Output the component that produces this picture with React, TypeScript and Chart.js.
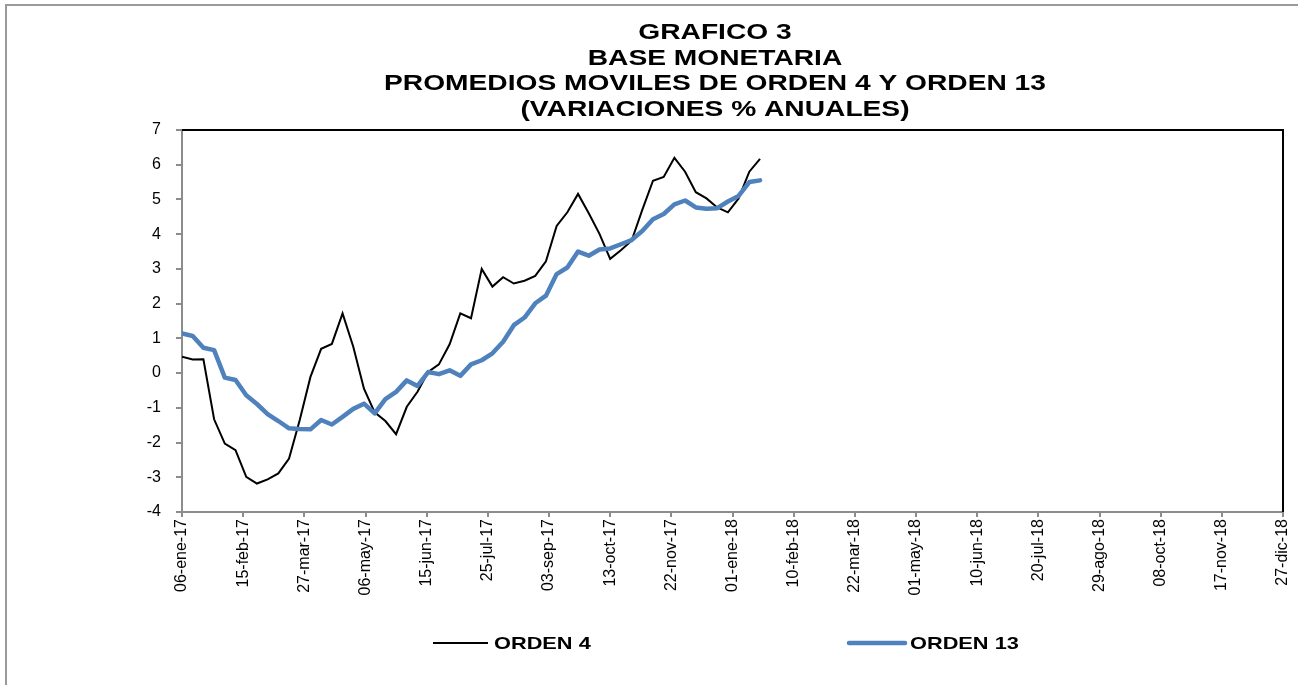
import React, { useEffect, useRef } from "react";
import { Chart, registerables } from "chart.js";

Chart.register(...registerables);

const TITLE_LINES = [
  "GRAFICO 3",
  "BASE MONETARIA",
  "PROMEDIOS MOVILES DE ORDEN 4 Y ORDEN 13",
  "(VARIACIONES % ANUALES)",
];

const START_DATE = "2017-01-06";
const END_DATE = "2018-12-27";
const TICK_STEP_DAYS = 40;
const Y_MIN = -4;
const Y_MAX = 7;

const MONTHS_ES = ["ene", "feb", "mar", "abr", "may", "jun", "jul", "ago", "sep", "oct", "nov", "dic"];

const WEEKS = [
  "2017-01-06", "2017-01-13", "2017-01-20", "2017-01-27",
  "2017-02-03", "2017-02-10", "2017-02-17", "2017-02-24",
  "2017-03-03", "2017-03-10", "2017-03-17", "2017-03-24", "2017-03-31",
  "2017-04-07", "2017-04-14", "2017-04-21", "2017-04-28",
  "2017-05-05", "2017-05-12", "2017-05-19", "2017-05-26",
  "2017-06-02", "2017-06-09", "2017-06-16", "2017-06-23", "2017-06-30",
  "2017-07-07", "2017-07-14", "2017-07-21", "2017-07-28",
  "2017-08-04", "2017-08-11", "2017-08-18", "2017-08-25",
  "2017-09-01", "2017-09-08", "2017-09-15", "2017-09-22", "2017-09-29",
  "2017-10-06", "2017-10-13", "2017-10-20", "2017-10-27",
  "2017-11-03", "2017-11-10", "2017-11-17", "2017-11-24",
  "2017-12-01", "2017-12-08", "2017-12-15", "2017-12-22", "2017-12-29",
  "2018-01-05", "2018-01-12", "2018-01-19",
];

const ORDEN_4 = [
  0.47, 0.39, 0.40, -1.33, -2.03, -2.22, -2.99, -3.18, -3.06, -2.89,
  -2.46, -1.35, -0.11, 0.70, 0.84, 1.72, 0.76, -0.45, -1.13, -1.38,
  -1.76, -0.97, -0.54, 0.03, 0.25, 0.83, 1.72, 1.58, 3.00, 2.49,
  2.76, 2.58, 2.66, 2.80, 3.22, 4.24, 4.63, 5.16, 4.60, 4.01,
  3.29, 3.54, 3.81, 4.70, 5.54, 5.65, 6.20, 5.80, 5.21, 5.03,
  4.77, 4.63, 5.03, 5.80, 6.17,
];

const ORDEN_13 = [
  1.14, 1.07, 0.73, 0.66, -0.13, -0.20, -0.64, -0.89, -1.18, -1.38,
  -1.59, -1.61, -1.62, -1.35, -1.48, -1.26, -1.03, -0.88, -1.16, -0.75,
  -0.54, -0.21, -0.37, 0.03, -0.03, 0.08, -0.08, 0.25, 0.37, 0.57,
  0.90, 1.38, 1.60, 2.01, 2.23, 2.85, 3.04, 3.50, 3.38, 3.56,
  3.59, 3.71, 3.83, 4.09, 4.43, 4.58, 4.86, 4.97, 4.77, 4.73,
  4.75, 4.94, 5.10, 5.50, 5.55,
];

const SERIES_NAMES = ["ORDEN 4", "ORDEN 13"];
const SERIES_COLORS = ["#000000", "#4f81bd"];
const SERIES_WIDTHS = [2, 4.5];

const FONT = "'Liberation Sans', Arial, sans-serif";
const DAY_MS = 86400000;

function toDays(iso: string): number {
  const [y, m, d] = iso.split("-").map(Number);
  const [y0, m0, d0] = START_DATE.split("-").map(Number);
  return Math.round((Date.UTC(y, m - 1, d) - Date.UTC(y0, m0 - 1, d0)) / DAY_MS);
}

function fmtDay(v: number): string {
  const [y0, m0, d0] = START_DATE.split("-").map(Number);
  const dt = new Date(Date.UTC(y0, m0 - 1, d0) + v * DAY_MS);
  const dd = String(dt.getUTCDate()).padStart(2, "0");
  const yy = String(dt.getUTCFullYear() % 100).padStart(2, "0");
  return `${dd}-${MONTHS_ES[dt.getUTCMonth()]}-${yy}`;
}

function stretchText(ctx: CanvasRenderingContext2D, text: string, x: number, y: number, sx: number, align: "left" | "center") {
  ctx.save();
  ctx.translate(x, y);
  ctx.scale(sx, 1);
  ctx.textAlign = align;
  ctx.textBaseline = "middle";
  ctx.fillText(text, 0, 0);
  ctx.restore();
}

const decorPlugin = {
  id: "decor",
  beforeDatasetsDraw(chart: any) {
    const { ctx, chartArea } = chart;
    ctx.save();
    ctx.strokeStyle = "#000000";
    ctx.lineWidth = 2;
    ctx.beginPath();
    ctx.moveTo(chartArea.left, chartArea.top);
    ctx.lineTo(chartArea.right, chartArea.top);
    ctx.lineTo(chartArea.right, chartArea.bottom);
    ctx.stroke();
    ctx.restore();
  },
  afterDraw(chart: any) {
    const { ctx } = chart;
    ctx.save();
    ctx.fillStyle = "#000000";
    ctx.font = `bold 22px ${FONT}`;
    const tx = 715;
    TITLE_LINES.forEach((line, i) => {
      stretchText(ctx, line, tx, 33 + i * 25.7, 1.28, "center");
    });
    // legend
    const ly = 643;
    const items = [
      { x0: 433, x1: 488, tx: 494 },
      { x0: 849, x1: 905, tx: 910 },
    ];
    items.forEach((it, i) => {
      ctx.strokeStyle = SERIES_COLORS[i];
      ctx.lineWidth = SERIES_WIDTHS[i];
      ctx.lineCap = i === 1 ? "round" : "butt";
      ctx.beginPath();
      ctx.moveTo(it.x0, ly);
      ctx.lineTo(it.x1, ly);
      ctx.stroke();
      ctx.fillStyle = "#000000";
      ctx.font = `bold 17px ${FONT}`;
      stretchText(ctx, SERIES_NAMES[i], it.tx, ly + 1, 1.28, "left");
    });
    ctx.restore();
  },
};

export default function App() {
  const canvasRef = useRef<HTMLCanvasElement | null>(null);

  useEffect(() => {
    const canvas = canvasRef.current;
    if (!canvas) return;
    const xs = WEEKS.map(toDays);
    const chart = new Chart(canvas, {
      type: "line",
      data: {
        datasets: [
          {
            label: SERIES_NAMES[0],
            data: xs.map((x, i) => ({ x, y: ORDEN_4[i] })),
            borderColor: SERIES_COLORS[0],
            borderWidth: SERIES_WIDTHS[0],
            pointRadius: 0,
            tension: 0,
            order: 1,
          },
          {
            label: SERIES_NAMES[1],
            data: xs.map((x, i) => ({ x, y: ORDEN_13[i] })),
            borderColor: SERIES_COLORS[1],
            borderWidth: SERIES_WIDTHS[1],
            pointRadius: 0,
            tension: 0,
            borderJoinStyle: "round",
            borderCapStyle: "round",
            order: 0,
          },
        ],
      },
      options: {
        animation: false,
        responsive: false,
        maintainAspectRatio: false,
        layout: { padding: { top: 130, right: 15, left: 0, bottom: 0 } },
        plugins: {
          legend: { display: false },
          title: { display: false },
          tooltip: { enabled: false },
        },
        scales: {
          x: {
            type: "linear",
            min: 0,
            max: toDays(END_DATE),
            afterFit: (s: any) => {
              s.height = 173;
              s.paddingLeft = 0;
              s.paddingRight = 0;
            },
            afterBuildTicks: (s: any) => {
              const t = [];
              for (let v = 0; v <= toDays(END_DATE); v += TICK_STEP_DAYS) t.push({ value: v });
              s.ticks = t;
            },
            ticks: {
              autoSkip: false,
              minRotation: 90,
              maxRotation: 90,
              padding: 2,
              color: "#000000",
              font: { family: FONT, size: 16 },
              callback: (v: any) => fmtDay(Number(v)),
            },
            grid: {
              display: true,
              drawOnChartArea: false,
              drawTicks: true,
              tickLength: 5,
              color: "#8c8c8c",
              lineWidth: 2,
            },
            border: { display: true, color: "#8c8c8c", width: 2 },
          },
          y: {
            min: Y_MIN,
            max: Y_MAX,
            afterFit: (s: any) => {
              s.width = 182;
              s.paddingTop = 0;
              s.paddingBottom = 0;
            },
            ticks: {
              stepSize: 1,
              padding: 15,
              color: "#000000",
              font: { family: FONT, size: 16 },
            },
            grid: {
              display: true,
              drawOnChartArea: false,
              drawTicks: true,
              tickLength: 6,
              color: "#8c8c8c",
              lineWidth: 2,
            },
            border: { display: true, color: "#8c8c8c", width: 2 },
          },
        },
      },
      plugins: [decorPlugin],
    });
    return () => chart.destroy();
  }, []);

  return (
    <div style={{ position: "absolute", left: 0, top: 0, width: 1298, height: 685, background: "#ffffff", overflow: "hidden" }}>
      <div
        style={{
          position: "absolute",
          left: 5,
          top: 4,
          width: 1400,
          height: 800,
          borderLeft: "2px solid #9a9a9a",
          borderTop: "2px solid #9a9a9a",
        }}
      />
      <canvas ref={canvasRef} width={1298} height={685} style={{ position: "absolute", left: 0, top: 0, width: 1298, height: 685 }} />
    </div>
  );
}
